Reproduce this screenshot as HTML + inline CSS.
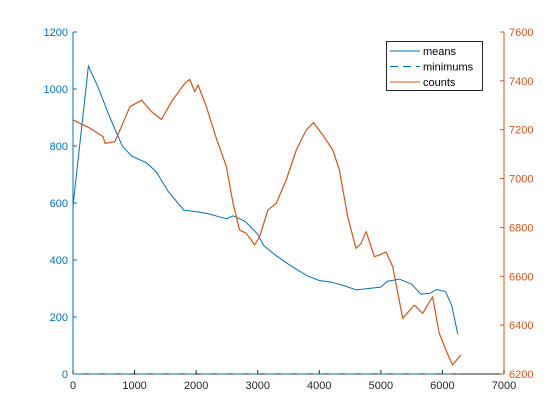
<!DOCTYPE html>
<html><head><meta charset="utf-8"><style>body{margin:0;background:#fff}svg{display:block;font-family:"Liberation Sans",sans-serif}</style></head>
<body>
<svg id="c" width="560" height="420"></svg>
<script>
const xTicks=[0,1000,2000,3000,4000,5000,6000,7000];
const leftTicks=[0,200,400,600,800,1000,1200];
const rightTicks=[6200,6400,6600,6800,7000,7200,7400,7600];
const meansX=[0,250,400,600,800,950,1200,1350,1550,1800,2000,2200,2400,2500,2600,2800,3000,3100,3300,3500,3800,4000,4200,4400,4600,4800,5000,5100,5300,5500,5650,5800,5900,6050,6150,6250];
const meansY=[590,1080,1010,900,800,765,740,710,640,575,570,562,550,545,555,535,490,450,415,385,345,328,322,310,295,300,305,325,333,315,280,283,296,290,240,140];
const minX=[0,6270];
const minY=[0,0];
const countsX=[0,276,491,519,681,924,1113,1275,1437,1600,1815,1896,1977,2031,2166,2328,2491,2598,2706,2815,2950,3031,3165,3301,3463,3626,3787,3906,4057,4219,4327,4462,4597,4679,4760,4895,4976,5084,5192,5354,5543,5678,5840,5948,6057,6164,6300];
const countsY=[7240,7206,7171,7144,7151,7294,7321,7274,7242,7315,7390,7406,7356,7383,7294,7165,7049,6899,6789,6776,6728,6762,6871,6899,6994,7117,7199,7229,7178,7117,7035,6844,6714,6735,6783,6680,6687,6700,6639,6428,6482,6448,6516,6367,6298,6237,6278];
const L=73,R=504,T=32,B=374;
const sx=v=>L+(v-0)/7000*(R-L);
const sl=v=>B-(v-0)/1200*(B-T);
const sr=v=>B-(v-6200)/1400*(B-T);
const svg=document.getElementById('c');
const NS='http://www.w3.org/2000/svg';
function mk(t,a,p){const e=document.createElementNS(NS,t);for(const k in a)e.setAttribute(k,a[k]);(p||svg).appendChild(e);return e;}
const blue='#0072bd',red='#d95319';
// axes
let e=mk('line',{x1:L,y1:B,x2:R,y2:B,stroke:'#262626','stroke-width':1});

e=mk('line',{x1:L,y1:T,x2:L,y2:B,stroke:blue,'stroke-width':1});

e=mk('line',{x1:R,y1:T,x2:R,y2:B,stroke:red,'stroke-width':1});

xTicks.forEach(v=>{const x=sx(v);
 e=mk('line',{x1:x,y1:B,x2:x,y2:B-4,stroke:'#262626'});
 
 e=mk('text',{x:x,y:B+15,'text-anchor':'middle','font-size':11,fill:'#262626'});e.textContent=v;
 });
leftTicks.forEach(v=>{const y=sl(v);
 e=mk('line',{x1:L,y1:y,x2:L+4,y2:y,stroke:blue});
 
 e=mk('text',{x:L-5,y:y+4,'text-anchor':'end','font-size':11,fill:blue});e.textContent=v;
 });
rightTicks.forEach(v=>{const y=sr(v);
 e=mk('line',{x1:R,y1:y,x2:R-4,y2:y,stroke:red});
 
 e=mk('text',{x:R+5,y:y+4,'text-anchor':'start','font-size':11,fill:red});e.textContent=v;
 });
function pts(X,Y,f){return X.map((x,i)=>sx(x).toFixed(1)+','+f(Y[i]).toFixed(1)).join(' ');}
e=mk('polyline',{points:pts(meansX,meansY,sl),fill:'none',stroke:blue,'stroke-width':1});

e=mk('polyline',{points:pts(minX,minY,sl),fill:'none',stroke:blue,'stroke-width':1,'stroke-dasharray':'10,6'});

e=mk('polyline',{points:pts(countsX,countsY,sr),fill:'none',stroke:red,'stroke-width':1.2,'stroke-linejoin':'round'});

// legend
const g=mk('g',{});

mk('rect',{x:386.5,y:41.5,width:96,height:49,fill:'#fff',stroke:'#262626'},g);
[['means',blue,''],['minimums',blue,'8,5'],['counts',red,'']].forEach((d,i)=>{const y=51+i*15.5;
 const ent=mk('g',{},g);
 
 mk('line',{x1:390,y1:y,x2:420,y2:y,stroke:d[1],'stroke-dasharray':d[2]},ent);
 const t=mk('text',{x:423,y:y+4,'font-size':11,fill:'#000'},ent);t.textContent=d[0];});
</script>
</body></html>
